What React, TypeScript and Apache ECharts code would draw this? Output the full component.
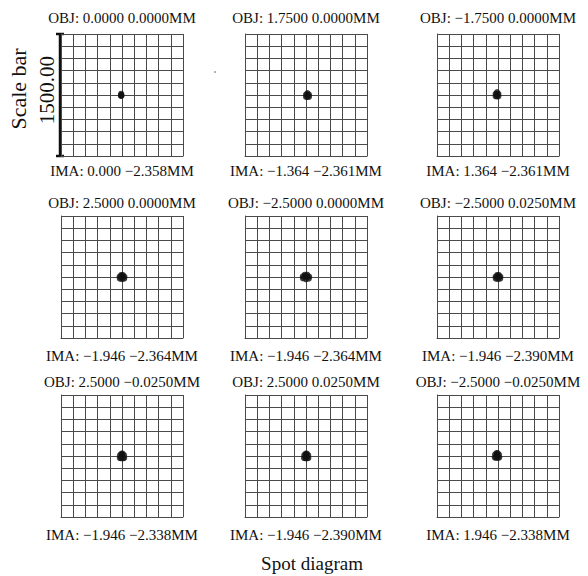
import React, { useEffect, useRef } from "react";
import * as echarts from "echarts";

const OBJ_LABELS = [
  "OBJ: 0.0000 0.0000MM",
  "OBJ: 1.7500 0.0000MM",
  "OBJ: \u22121.7500 0.0000MM",
  "OBJ: 2.5000 0.0000MM",
  "OBJ: \u22122.5000 0.0000MM",
  "OBJ: \u22122.5000 0.0250MM",
  "OBJ: 2.5000 \u22120.0250MM",
  "OBJ: 2.5000 0.0250MM",
  "OBJ: \u22122.5000 \u22120.0250MM",
];
const IMA_LABELS = [
  "IMA: 0.000 \u22122.358MM",
  "IMA: \u22121.364 \u22122.361MM",
  "IMA: 1.364 \u22122.361MM",
  "IMA: \u22121.946 \u22122.364MM",
  "IMA: \u22121.946 \u22122.364MM",
  "IMA: \u22121.946 \u22122.390MM",
  "IMA: \u22121.946 \u22122.338MM",
  "IMA: \u22121.946 \u22122.390MM",
  "IMA: 1.946 \u22122.338MM",
];
// spot points (micrometres) for each field
const SPOT_1 = [[-10, 16], [-14, 0], [-6, 0], [-14, -12], [-6, -12]];
const SPOT_2 = [[18, 24], [0, 5], [18, 5], [37, 5], [0, -24], [18, -24], [37, -24]];
const SPOT_3 = [[-12, 36], [-30, 15], [-12, 15], [6, 15], [-30, -16], [-12, -18], [6, -16]];
const SPOT_4 = [[-10, 25], [10, 25], [-30, 5], [0, 5], [30, 5], [-28, -20], [0, -25], [28, -20]];
const SPOT_5 = [[-15, 28], [15, 28], [-40, 8], [-10, 8], [15, 8], [40, 5], [-38, -18], [0, -28], [35, -20]];
const SPOT_6 = [[-10, 25], [10, 25], [-30, 5], [0, 5], [30, 5], [-28, -20], [0, -25], [28, -20]];
const SPOT_7 = [[-8, 30], [8, 30], [-25, 10], [0, 10], [25, 10], [-28, -25], [-10, -28], [10, -28], [28, -25]];
const SPOT_8 = [[-5, 30], [12, 30], [-22, 10], [2, 10], [28, 10], [-25, -25], [-5, -28], [12, -28], [30, -25]];
const SPOT_9 = [[-20, 36], [-4, 36], [-37, 16], [-12, 16], [13, 16], [-40, -19], [-22, -22], [-2, -22], [16, -19]];
const SPOTS = [SPOT_1, SPOT_2, SPOT_3, SPOT_4, SPOT_5, SPOT_6, SPOT_7, SPOT_8, SPOT_9];

const AXIS_MIN = -750;
const AXIS_MAX = 750;
const AXIS_STEP = 150;
const SCALE_BAR_LABEL = "1500.00";

const COL_LEFT = [61, 245, 437];
const ROW_TOP = [34, 216, 395];
const CELL = 122;
const OBJ_Y = [18, 203, 382];
const IMA_Y = [171, 356, 535];

export default function App() {
  const ref = useRef<HTMLDivElement>(null);
  useEffect(() => {
    if (!ref.current) return;
    const chart = echarts.init(ref.current, null, { renderer: "svg" });
    const font = "'Liberation Serif', 'Times New Roman', serif";
    const grids: any[] = [];
    const xAxes: any[] = [];
    const yAxes: any[] = [];
    const series: any[] = [];
    const graphics: any[] = [];
    const lineStyle = { color: "#4a4a4a", width: 1 };
    for (let i = 0; i < 9; i++) {
      const r = Math.floor(i / 3);
      const c = i % 3;
      grids.push({ left: COL_LEFT[c], top: ROW_TOP[r], width: CELL, height: CELL, show: false });
      const ax = (idx: number) => ({
        gridIndex: idx,
        type: "value",
        min: AXIS_MIN,
        max: AXIS_MAX,
        interval: AXIS_STEP,
        axisLine: { show: true, onZero: false, lineStyle },
        axisTick: { show: false },
        axisLabel: { show: false },
        splitLine: { show: true, lineStyle },
      });
      xAxes.push(ax(i));
      yAxes.push(ax(i));
      series.push({
        type: "scatter",
        xAxisIndex: i,
        yAxisIndex: i,
        symbol: "circle",
        symbolSize: 6,
        itemStyle: { color: "#111" },
        data: SPOTS[i],
        silent: true,
      });
      const cx = COL_LEFT[c] + CELL / 2;
      graphics.push({
        type: "text",
        x: cx,
        y: OBJ_Y[r],
        style: { text: OBJ_LABELS[i], font: `15px ${font}`, fill: "#111", align: "center", verticalAlign: "middle" },
      });
      graphics.push({
        type: "text",
        x: cx,
        y: IMA_Y[r],
        style: { text: IMA_LABELS[i], font: `15px ${font}`, fill: "#111", align: "center", verticalAlign: "middle" },
      });
    }
    // scale bar
    const sbX = 60;
    const sbTop = ROW_TOP[0];
    const sbBot = ROW_TOP[0] + CELL;
    graphics.push({ type: "line", shape: { x1: sbX, y1: sbTop, x2: sbX, y2: sbBot }, style: { stroke: "#111", lineWidth: 2.5 } });
    graphics.push({ type: "line", shape: { x1: sbX - 4, y1: sbTop, x2: sbX + 4, y2: sbTop }, style: { stroke: "#111", lineWidth: 2.5 } });
    graphics.push({ type: "line", shape: { x1: sbX - 4, y1: sbBot, x2: sbX + 4, y2: sbBot }, style: { stroke: "#111", lineWidth: 2.5 } });
    graphics.push({
      type: "text",
      x: 47,
      y: 90,
      rotation: Math.PI / 2,
      style: { text: SCALE_BAR_LABEL, font: `21px ${font}`, fill: "#111", align: "center", verticalAlign: "middle" },
    });
    graphics.push({
      type: "text",
      x: 18,
      y: 89,
      rotation: Math.PI / 2,
      style: { text: "Scale bar", font: `22px ${font}`, fill: "#111", align: "center", verticalAlign: "middle" },
    });
    graphics.push({
      type: "text",
      x: 312,
      y: 563,
      style: { text: "Spot diagram", font: `19px ${font}`, fill: "#111", align: "center", verticalAlign: "middle" },
    });
    graphics.push({ type: "circle", shape: { cx: 215, cy: 72, r: 0.8 }, style: { fill: "#888" } });
    chart.setOption({
      animation: false,
      backgroundColor: "#fff",
      grid: grids,
      xAxis: xAxes,
      yAxis: yAxes,
      series,
      graphic: graphics,
    });
    return () => chart.dispose();
  }, []);
  return <div ref={ref} style={{ position: "fixed", left: 0, top: 0, width: 588, height: 576 }} />;
}
